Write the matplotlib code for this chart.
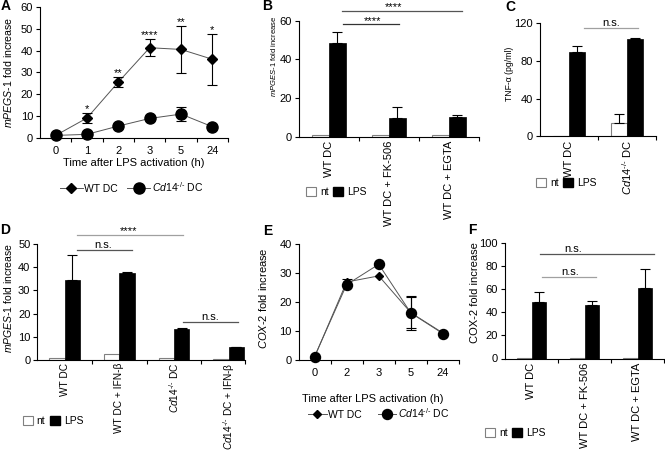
import matplotlib
matplotlib.use('Agg')
import matplotlib.pyplot as plt
from matplotlib.lines import Line2D
from matplotlib.patches import Patch
import numpy as np

plt.rcParams['font.family'] = ['Liberation Sans', 'DejaVu Sans']
plt.rcParams['font.size'] = 8
plt.rcParams['mathtext.fontset'] = 'custom'
plt.rcParams['mathtext.rm'] = 'Liberation Sans'
plt.rcParams['mathtext.it'] = 'Liberation Sans:italic'
plt.rcParams['mathtext.sf'] = 'Liberation Sans'

KO = r'$\mathit{Cd14}^{\text{-/-}}$'

# ---------------- data ----------------
A_times = ['0', '1', '2', '3', '5', '24']
A_wt = [1.0, 9.0, 25.5, 41.3, 40.5, 36.0]
A_wt_err = [0, 2.3, 2.4, 4.0, 10.7, 11.7]
A_ko = [1.0, 1.5, 5.3, 8.8, 10.8, 5.0]
A_ko_err = [0, 0, 0, 0, 3.3, 0]
A_stars = ['', '*', '**', '****', '**', '*']

B_groups = ['WT DC', 'WT DC + FK-506', 'WT DC + EGTA']
B_nt = [1.0, 1.0, 1.0]
B_lps = [48.3, 9.5, 10.0]
B_lps_err = [5.7, 6.0, 1.2]

C_groups = ['WT DC', KO + ' DC']
C_nt = [0.0, 14.1]
C_nt_err = [0, 9.6]
C_lps = [90.0, 103.4]
C_lps_err = [6.3, 1.4]

D_groups = ['WT DC', 'WT DC + IFN-β', KO + ' DC', KO + ' DC + IFN-β']
D_nt = [1.0, 2.6, 1.0, 0.5]
D_lps = [34.5, 37.6, 13.4, 5.5]
D_lps_err = [10.8, 0.3, 0.2, 0.3]

E_times = ['0', '2', '3', '5', '24']
E_wt = [1.0, 26.9, 29.0, 16.3, 9.3]
E_wt_err = [0, 1.2, 0, 5.3, 0]
E_ko = [1.2, 26.0, 33.0, 16.2, 9.1]
E_ko_err = [0, 0, 0, 5.8, 0]

F_groups = ['WT DC', 'WT DC + FK-506', 'WT DC + EGTA']
F_nt = [0.5, 0.5, 0.5]
F_lps = [49.0, 46.3, 61.2]
F_lps_err = [8.5, 3.4, 15.8]

# ---------------- layout helpers ----------------
W, H = 665, 450
fig = plt.figure(figsize=(6.65, 4.5), dpi=100)


def add_ax(l, r, t, b):
    return fig.add_axes([l / W, 1 - b / H, (r - l) / W, (b - t) / H])


def ftext(x, y, s, **kw):
    fig.text(x / W, 1 - y / H, s, **kw)


def style(ax, n, xmax=None):
    for s in ['top', 'right']:
        ax.spines[s].set_visible(False)
    for s in ['left', 'bottom']:
        ax.spines[s].set_linewidth(0.8)
    if xmax is None:
        xmax = n - 0.5
    ax.set_xlim(-0.5, xmax)
    ax.set_xticks(np.arange(n))
    ax.set_xticks(list(np.arange(n - 1) + 0.5) + [xmax], minor=True)
    ax.tick_params(axis='y', direction='out', length=3, width=0.8, labelsize=8, pad=2)
    ax.tick_params(axis='x', which='major', length=0, labelsize=8)
    ax.tick_params(axis='x', which='minor', direction='out', length=3, width=0.8)


def line_panel(ax, labels, wt, wt_err, ko, ko_err, ms_d, ms_o, ylim, yticks):
    x = np.arange(len(labels))
    style(ax, len(labels))
    ax.plot(x, wt, color='#555555', lw=0.7, marker='D', ms=ms_d, mfc='black', mec='black', zorder=3, clip_on=False)
    ax.plot(x, ko, color='#555555', lw=0.7, marker='o', ms=ms_o, mfc='black', mec='black', zorder=3, clip_on=False)
    for vals, errs in [(wt, wt_err), (ko, ko_err)]:
        idx = [i for i, e in enumerate(errs) if e > 0]
        ax.errorbar(x[idx], np.array(vals)[idx], yerr=np.array(errs)[idx], fmt='none', ecolor='black',
                    elinewidth=0.8, capsize=3.5, capthick=0.8, zorder=4)
    ax.set_ylim(*ylim)
    ax.set_yticks(yticks)
    ax.set_xticklabels(labels)
    ax.tick_params(axis='x', which='major', pad=6)


def bar_panel(ax, groups, nt, lps, lps_err, ylim, yticks, nt_err=None, xmax=None, lsize=8, lpad=3):
    x = np.arange(len(groups))
    style(ax, len(groups), xmax)
    ax.bar(x - 0.14, nt, 0.28, color='white', edgecolor='#808080', linewidth=0.8, zorder=2)
    ax.bar(x + 0.14, lps, 0.28, color='black', edgecolor='black', linewidth=0.5, zorder=2)
    ax.errorbar(x + 0.14, lps, yerr=[np.zeros(len(x)), lps_err], fmt='none', ecolor='black',
                elinewidth=0.8, capsize=3.5, capthick=0.8, zorder=3)
    if nt_err is not None:
        idx = [i for i, e in enumerate(nt_err) if e > 0]
        ax.errorbar(x[idx] - 0.14, np.array(nt)[idx], yerr=[np.zeros(len(idx)), np.array(nt_err)[idx]],
                    fmt='none', ecolor='black', elinewidth=0.8, capsize=3.5, capthick=0.8, zorder=3)
    ax.set_ylim(*ylim)
    ax.set_yticks(yticks)
    ax.set_xticklabels(groups, rotation=90, ha='center', va='top', fontsize=lsize)
    ax.tick_params(axis='x', which='major', pad=lpad)


def sig(ax, x0, x1, y, label, tx, color, dy):
    ax.plot([x0, x1], [y, y], color=color, lw=0.9, clip_on=False)
    ax.text(tx, y + dy, label, ha='center', va='baseline', fontsize=8)


def bar_legend(x, y):
    h = [Patch(facecolor='white', edgecolor='#808080', lw=0.8), Patch(facecolor='black', edgecolor='black')]
    fig.legend(h, ['nt', 'LPS'], loc='center left', bbox_to_anchor=(x / W, 1 - y / H), ncol=2, frameon=False,
               fontsize=7.5, handlelength=0.95, handleheight=0.95, handletextpad=0.4, columnspacing=0.45,
               borderpad=0, borderaxespad=0)


def line_legend(x, y, ms_d, ms_o, hl, cs):
    h = [Line2D([], [], color='#555555', lw=0.7, marker='D', ms=ms_d, mfc='black', mec='black'),
         Line2D([], [], color='#555555', lw=0.7, marker='o', ms=ms_o, mfc='black', mec='black')]
    fig.legend(h, ['WT DC', KO + ' DC'], loc='center left', bbox_to_anchor=(x / W, 1 - y / H), ncol=2,
               frameon=False, fontsize=7.5, handlelength=hl, handletextpad=0.15, columnspacing=cs,
               borderpad=0, borderaxespad=0, numpoints=1)


# ---------------- Panel A ----------------
axA = add_ax(40, 228, 7, 137.6)
line_panel(axA, A_times, A_wt, A_wt_err, A_ko, A_ko_err, 5.2, 8, (0, 60), range(0, 61, 10))
for i, s in enumerate(A_stars):
    if s:
        axA.text(i, A_wt[i] + A_wt_err[i] + 0.3, s, ha='center', va='baseline', fontsize=8, clip_on=False)
ftext(134, 163.3, 'Time after LPS activation (h)', ha='center', va='center', fontsize=8)
ftext(8, 72, r'$\mathit{mPEGS}$-$\mathit{1}$ fold increase', rotation=90, ha='center', va='center', fontsize=7.6)
line_legend(60, 186.7, 5.2, 8, 2.2, 0.85)

# ---------------- Panel B ----------------
axB = add_ax(299, 479, 20.7, 136.7)
bar_panel(axB, B_groups, B_nt, B_lps, B_lps_err, (0, 60), [0, 20, 40, 60])
sig(axB, 0.21, 2.21, 65.0, '****', 1.07, '#555555', 0.3)
sig(axB, 0.23, 1.17, 58.1, '****', 0.73, '#333333', 0.3)
ftext(273, 56.5, r'$\mathit{mPGES}$-$\mathit{1}$ fold increase', rotation=90, ha='center', va='center', fontsize=5.5)
bar_legend(306, 191.7)

# ---------------- Panel C ----------------
axC = add_ax(540, 656, 23.3, 136.2)
bar_panel(axC, C_groups, C_nt, C_lps, C_lps_err, (0, 120), [0, 40, 80, 120], nt_err=C_nt_err)
sig(axC, 0.25, 1.19, 114.7, 'n.s.', 0.72, '#a0a0a0', 2.2)
ftext(510, 73.5, 'TNF-α (pg/ml)', rotation=90, ha='center', va='center', fontsize=6.2)
bar_legend(536, 182.7)

# ---------------- Panel D ----------------
axD = add_ax(37.3, 245, 244, 360)
bar_panel(axD, D_groups, D_nt, D_lps, D_lps_err, (0, 50), range(0, 51, 10), xmax=3.3, lsize=7.3, lpad=2)
sig(axD, 0.23, 2.16, 53.9, '****', 1.16, '#a0a0a0', 0.3)
sig(axD, 0.23, 1.23, 47.4, 'n.s.', 0.71, '#555555', 0.9)
sig(axD, 2.16, 3.17, 16.2, 'n.s.', 2.66, '#555555', 0.9)
ftext(8, 298, r'$\mathit{mPGES}$-$\mathit{1}$ fold increase', rotation=90, ha='center', va='center', fontsize=7.5)
bar_legend(22.7, 420.7)

# ---------------- Panel E ----------------
axE = add_ax(298.5, 459, 244, 360)
line_panel(axE, E_times, E_wt, E_wt_err, E_ko, E_ko_err, 4.2, 7.2, (0, 40), range(0, 41, 10))
ftext(373, 399, 'Time after LPS activation (h)', ha='center', va='center', fontsize=8)
ftext(263, 298, r'$\mathit{COX}$-$\mathit{2}$ fold increase', rotation=90, ha='center', va='center', fontsize=8)
line_legend(308, 412.7, 4.2, 7.2, 1.8, 1.5)

# ---------------- Panel F ----------------
axF = add_ax(505, 664, 242.7, 358.5)
bar_panel(axF, F_groups, F_nt, F_lps, F_lps_err, (0, 100), range(0, 101, 20))
sig(axF, 0.16, 2.31, 90.5, 'n.s.', 0.78, '#555555', 1.8)
sig(axF, 0.19, 1.22, 70.7, 'n.s.', 0.72, '#a0a0a0', 1.8)
ftext(475, 292.5, 'COX-2 fold increase', rotation=90, ha='center', va='center', fontsize=8)
bar_legend(485, 433.3)

# ---------------- Panel letters ----------------
for lbl, (x, y) in zip('ABCDEF', [(6, 6), (267, 6), (510, 7), (5, 230), (268, 231), (472, 230)]):
    ftext(x, y, lbl, ha='center', va='center', fontsize=10, fontweight='bold')

fig.savefig('out.png', dpi=100)
